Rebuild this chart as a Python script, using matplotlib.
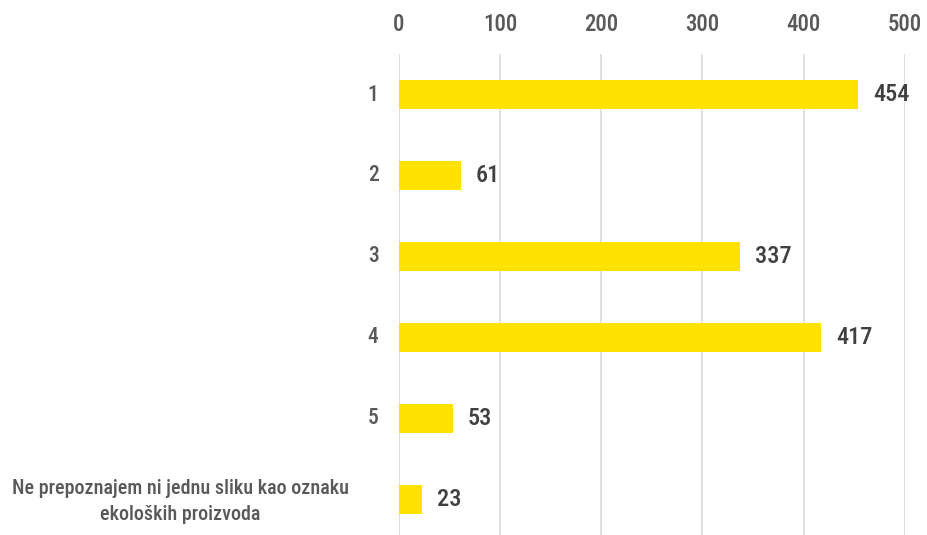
import matplotlib
matplotlib.use("Agg")
import matplotlib.pyplot as plt
from matplotlib import font_manager
from matplotlib.transforms import blended_transform_factory

categories = ["1", "2", "3", "4", "5",
              "Ne prepoznajem ni jednu sliku kao oznaku\nekoloških proizvoda"]
values = [454, 61, 337, 417, 53, 23]
ticks = [0, 100, 200, 300, 400, 500]

names = {f.name for f in font_manager.fontManager.ttflist}
stretch = "normal"
if "Roboto Condensed" in names:
    family = "Roboto Condensed"
elif "Liberation Sans Narrow" in names:
    family = "Liberation Sans Narrow"
else:
    family = "DejaVu Sans"
    stretch = "condensed"
plt.rcParams["font.family"] = [family, "DejaVu Sans"]
plt.rcParams["font.stretch"] = stretch

label_color = "#595959"
value_color = "#404040"

fig = plt.figure(figsize=(9.28, 5.35), dpi=100)
ax = fig.add_axes([0.43, -0.009, 0.545, 0.908])

y = list(range(len(categories)))
ax.barh(y, values, height=0.35, color="#FFE200", zorder=3)
ax.set_ylim(len(categories) - 0.5, -0.5)
ax.set_xlim(0, 500)
ax.set_xticks(ticks)
ax.xaxis.tick_top()
ax.tick_params(axis="x", length=0, pad=13, labelsize=16.5, labelcolor=label_color)
ax.set_yticks([])
ax.grid(axis="x", color="#D9D9D9", linewidth=1.2, zorder=0)
for s in ax.spines.values():
    s.set_visible(False)
for lbl in ax.get_xticklabels():
    lbl.set_fontstretch(stretch)
    lbl.set_fontweight("medium")

# category labels: short ones right-aligned next to the axis, the long one centred
trans = blended_transform_factory(fig.transFigure, ax.transData)
for yi, cat in zip(y, categories):
    if "\n" in cat:
        ax.text(0.194, yi + 0.03, cat, transform=trans, ha="center", va="center",
                fontsize=14.5, color=label_color, linespacing=1.45,
                fontweight="medium", fontstretch=stretch)
    else:
        ax.text(0.408, yi, cat, transform=trans, ha="right", va="center",
                fontsize=15.5, color=label_color, fontweight="medium",
                fontstretch=stretch)

for yi, v in zip(y, values):
    ax.text(v + 15, yi, str(v), va="center", ha="left", fontsize=17.5,
            color=value_color, fontweight="medium", fontstretch=stretch)

fig.savefig("out.png", dpi=100)
